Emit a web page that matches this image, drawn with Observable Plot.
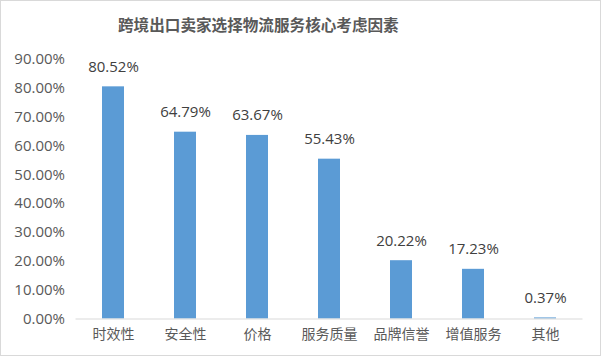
<!DOCTYPE html>
<html><head><meta charset="utf-8">
<script src="https://cdn.jsdelivr.net/npm/d3@7"></script>
<script src="https://cdn.jsdelivr.net/npm/@observablehq/plot@0.6"></script>
<style>
body{margin:0;background:#fff;}
#wrap{position:relative;width:604px;height:361px;overflow:hidden;font-family:"Open Sans","Noto Sans CJK SC",sans-serif;}
#frame{position:absolute;left:0;top:0;width:599px;height:354px;border:1px solid #d9d9d9;pointer-events:none;}
#title{height:42px;position:relative;}
#title span{position:absolute;left:118px;top:14px;font-size:15.6px;font-weight:bold;color:#595959;font-family:"Noto Sans CJK SC",sans-serif;line-height:20px;white-space:nowrap;}
#chart svg{display:block;}
</style></head>
<body><div id="wrap"><div id="title"><span>跨境出口卖家选择物流服务核心考虑因素</span></div><div id="chart"></div><div id="frame"></div></div>
<script>
const categories = ["时效性", "安全性", "价格", "服务质量", "品牌信誉", "增值服务", "其他"];
const values = [0.8052, 0.6479, 0.6367, 0.5543, 0.2022, 0.1723, 0.0037];
const yTicks = [0, 0.1, 0.2, 0.3, 0.4, 0.5, 0.6, 0.7, 0.8, 0.9];
const data = categories.map((c, i) => ({category: c, value: values[i]}));
const pct = v => (v * 100).toFixed(2) + "%";
const plot = Plot.plot({
  width: 604, height: 319,
  marginLeft: 75.5, marginRight: 21.5, marginTop: 17, marginBottom: 42.5,
  style: {fontFamily: '"Open Sans","Noto Sans CJK SC",sans-serif', background: "transparent", overflow: "visible"},
  x: {domain: categories, paddingInner: 0.7, paddingOuter: 0.35, label: null},
  y: {domain: [0, 0.9], label: null},
  marks: [
    Plot.barY(data, {x: "category", y: "value", fill: "#5b9bd5"}),
    Plot.ruleY([0], {stroke: "#d9d9d9"}),
    Plot.axisY({ticks: yTicks, tickFormat: pct, tickSize: 0, tickPadding: 11, fontSize: 15, fill: "#595959", label: null}),
    Plot.axisX({tickSize: 0, tickPadding: 10, fontSize: 14, fill: "#595959", label: null}),
    Plot.text(data, {x: "category", y: "value", text: d => pct(d.value), dy: -20, fill: "#404040", fontSize: 15})
  ]
});
document.getElementById("chart").appendChild(plot);
</script>
</body></html>
